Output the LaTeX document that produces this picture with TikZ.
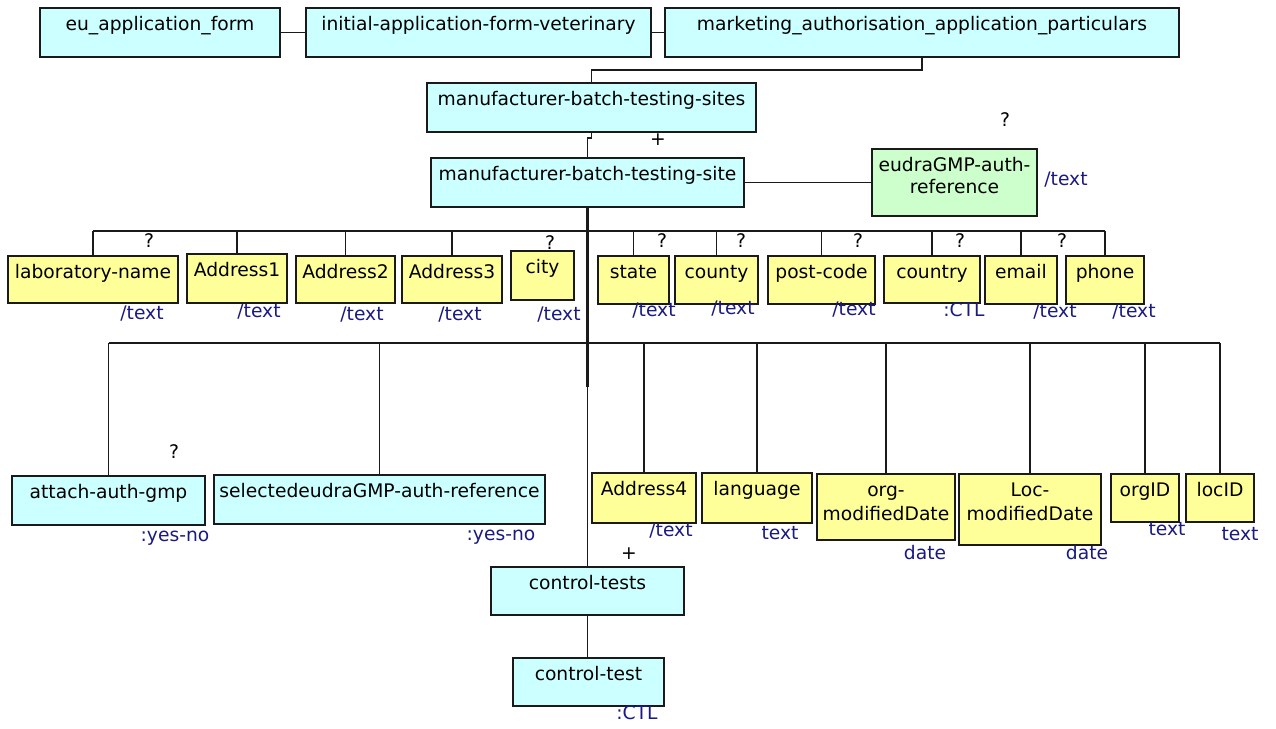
\documentclass[tikz,border=0pt]{standalone}
\usepackage{fontspec}
\setmainfont{DejaVu Sans}
\definecolor{cfill}{HTML}{CCFFFF}
\definecolor{yfill}{HTML}{FFFF99}
\definecolor{gfill}{HTML}{CCFFCC}
\definecolor{navy}{HTML}{1A1A80}
\definecolor{ink}{HTML}{1A1A1A}
\newcommand\mainsz{\fontsize{18.7}{22}\selectfont}
\pgfdeclarelayer{bg}
\pgfsetlayers{bg,main}
\tikzset{
  boxbase/.style={draw=ink, line width=1.8pt, rectangle, inner sep=0pt, outer sep=0pt},
  cbox/.style={boxbase, fill=cfill},
  ybox/.style={boxbase, fill=yfill},
  gbox/.style={boxbase, fill=gfill},
  txt/.style={inner sep=0pt, anchor=base, font=\mainsz, text=black},
  lbl/.style={inner sep=0pt, anchor=mid, font=\mainsz, text=navy},
  card/.style={inner sep=0pt, anchor=mid, font=\mainsz, text=black},
  conn/.style={draw=ink, line width=1.9pt},
  bus/.style={draw=ink, line width=2.2pt},
  trunk/.style={draw=ink, line width=3pt},
}
% name, style, x1, y1, x2, y2, first text line
\newcommand\mybox[7]{%
  \node[#2, minimum width={#5-#3}, minimum height={#6-#4}] (#1) at ({(#3+#5)/2},{(#4+#6)/2}) {};
  \node[txt] (#1-t) at ([yshift=-22.5pt]#1.north) {#7};
}
\begin{document}
\begin{tikzpicture}[x=1pt, y=-1pt]
\useasboundingbox (0,0) rectangle (1276,728);

% ---- top row
\mybox{eu}{cbox}{40}{8}{280}{57}{eu\_application\_form}
\mybox{init}{cbox}{306}{8}{651}{57}{initial-application-form-veterinary}
\mybox{mkt}{cbox}{665}{8}{1179}{57}{marketing\_authorisation\_application\_particulars}

\mybox{sites}{cbox}{427}{83}{756}{132}{manufacturer-batch-testing-sites}
\mybox{site}{cbox}{431}{158}{744}{207}{manufacturer-batch-testing-site}

\mybox{eudra}{gbox}{872}{149}{1037}{216}{eudraGMP-auth-}
\node[txt] (eudra-t2) at ([yshift=-44.5pt]eudra.north) {reference};

% ---- first row of attributes
\mybox{lab}{ybox}{8}{256}{178}{303}{laboratory-name}
\mybox{a1}{ybox}{187}{254}{287}{303}{Address1}
\mybox{a2}{ybox}{296}{256}{395}{303}{Address2}
\mybox{a3}{ybox}{402}{256}{502}{303}{Address3}
\mybox{city}{ybox}{511}{251}{574}{300}{city}
\mybox{state}{ybox}{598}{256}{669}{304}{state}
\mybox{county}{ybox}{675}{256}{758}{304}{county}
\mybox{pc}{ybox}{768}{256}{875}{304}{post-code}
\mybox{ctry}{ybox}{884}{256}{980}{303}{country}
\mybox{email}{ybox}{985}{256}{1057}{304}{email}
\mybox{phone}{ybox}{1066}{256}{1144}{304}{phone}

% ---- second row
\mybox{attach}{cbox}{12}{476}{205}{525}{attach-auth-gmp}
\mybox{sel}{cbox}{214}{475}{545}{524}{selectedeudraGMP-auth-reference}
\mybox{a4}{ybox}{592}{473}{696}{523}{Address4}
\mybox{lang}{ybox}{702}{473}{812}{523}{language}
\mybox{org}{ybox}{817}{474}{955}{540}{org-}
\node[txt] (org-t2) at ([yshift=-46pt]org.north) {modifiedDate};
\mybox{loc}{ybox}{959}{474}{1101}{545}{Loc-}
\node[txt] (loc-t2) at ([yshift=-46pt]loc.north) {modifiedDate};
\mybox{orgid}{ybox}{1111}{474}{1179}{522}{orgID}
\mybox{locid}{ybox}{1186}{474}{1254}{522}{locID}

\mybox{ctests}{cbox}{491}{567}{684}{615}{control-tests}
\mybox{ctest}{cbox}{513}{658}{664}{706}{control-test}

% ---- type labels
\node[lbl] (eudra-ty) at (1066,183) {/text};
\node[lbl] (lab-ty) at (142,317) {/text};
\node[lbl] (a1-ty) at (259,315) {/text};
\node[lbl] (a2-ty) at (362,318) {/text};
\node[lbl] (a3-ty) at (460,318) {/text};
\node[lbl] (city-ty) at (559,318) {/text};
\node[lbl] (state-ty) at (654,314) {/text};
\node[lbl] (county-ty) at (733,312) {/text};
\node[lbl] (pc-ty) at (854,313) {/text};
\node[lbl] (ctry-ty) at (964,314) {:CTL};
\node[lbl] (email-ty) at (1055,315) {/text};
\node[lbl] (phone-ty) at (1134,315) {/text};
\node[lbl] (attach-ty) at (175,539) {:yes-no};
\node[lbl] (sel-ty) at (501,538) {:yes-no};
\node[lbl] (a4-ty) at (671,534) {/text};
\node[lbl] (lang-ty) at (780,537) {text};
\node[lbl] (org-ty) at (925,557) {date};
\node[lbl] (loc-ty) at (1087,557) {date};
\node[lbl] (orgid-ty) at (1167,533) {text};
\node[lbl] (locid-ty) at (1240,538) {text};
\node[lbl] (ctest-ty) at (637,717) {:CTL};

% ---- cardinalities
\node[card] (eudra-q) at (1005,124) {?};
\node[card] (lab-q) at (149,245) {?};
\node[card] (state-q) at (662,245) {?};
\node[card] (county-q) at (741,245) {?};
\node[card] (pc-q) at (858,245) {?};
\node[card] (ctry-q) at (960,245) {?};
\node[card] (email-q) at (1062,245) {?};
\node[card] (attach-q) at (174,456) {?};
\node[card] (site-p) at (658,143) {+};
\node[card] (ctests-p) at (629,557) {+};

\coordinate (b1) at (0,231);
\coordinate (b2) at (0,343);
\coordinate (tj) at (0,387);

\begin{pgfonlayer}{bg}
  \node[card] (city-q) at (550,247) {?};
  % top chain
  \draw[conn] (eu.east) -- (init.west);
  \draw[conn] (init.east) -- (mkt.west);
  \draw[conn] (mkt.south) -- ++(0,13) -| (sites.north);
  \draw[conn] (sites.south) -- ++(0,6) -| (site.north);
  \draw[conn] (site.east) -- (eudra.west);
  % trunk
  \draw[trunk] (site.south) -- (site.south |- tj);
  \draw[conn] (site.south |- tj) -- (ctests.north);
  \draw[conn] (ctests.south) -- (ctests.south |- ctest.north);
  % first bus
  \draw[bus] (lab.north |- b1) -- (phone.north |- b1);
  \foreach \n in {lab,a1,a2,a3,state,county,pc,ctry,email,phone}
    \draw[conn] (\n.north |- b1) -- (\n.north);
  % second bus
  \draw[bus] (attach.north |- b2) -- (locid.north |- b2);
  \foreach \n in {attach,sel,a4,lang,org,loc,orgid,locid}
    \draw[conn] (\n.north |- b2) -- (\n.north);
\end{pgfonlayer}
\end{tikzpicture}
\end{document}
